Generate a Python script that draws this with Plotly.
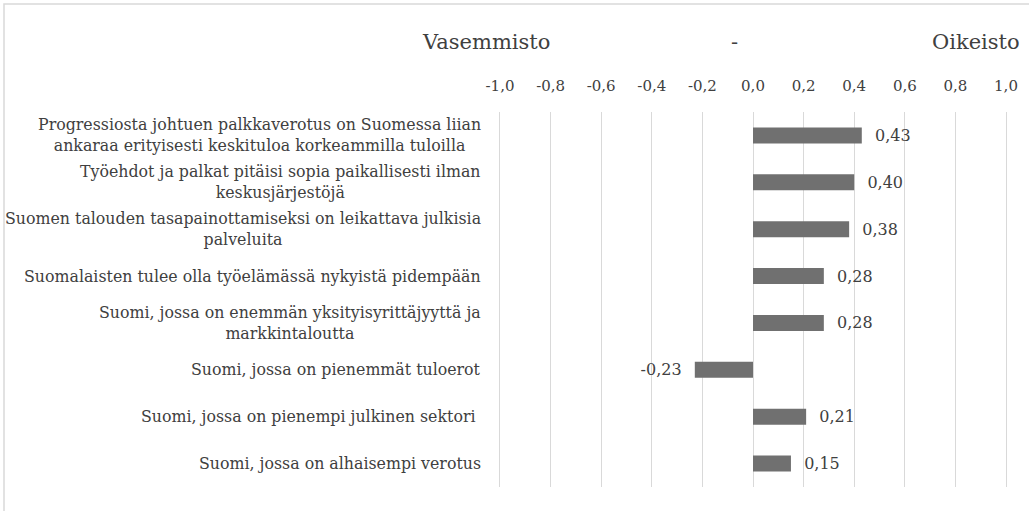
import plotly.graph_objects as go

# kysymykset (ylhäältä alas)
kysymykset = [
    "Progressiosta johtuen palkkaverotus on Suomessa liian<br>ankaraa erityisesti keskituloa korkeammilla tuloilla",
    "Työehdot ja palkat pitäisi sopia paikallisesti ilman<br>keskusjärjestöjä",
    "Suomen talouden tasapainottamiseksi on leikattava julkisia<br>palveluita",
    "Suomalaisten tulee olla työelämässä nykyistä pidempään",
    "Suomi, jossa on enemmän yksityisyrittäjyyttä ja<br>markkintaloutta",
    "Suomi, jossa on pienemmät tuloerot",
    "Suomi, jossa on pienempi julkinen sektori ",
    "Suomi, jossa on alhaisempi verotus",
]
arvot = [0.43, 0.40, 0.38, 0.28, 0.28, -0.23, 0.21, 0.15]
x_tikit = [-1.0, -0.8, -0.6, -0.4, -0.2, 0.0, 0.2, 0.4, 0.6, 0.8, 1.0]
x_tikkitekstit = ["-1,0", "-0,8", "-0,6", "-0,4", "-0,2", "0,0", "0,2", "0,4", "0,6", "0,8", "1,0"]

FONT = "DejaVu Serif"
TXT = "#404040"
GRID = "#d9d9d9"
NBSP = "\u00a0"

# plot-alueen pikselit (kuvan koko 1029x511)
L, R, T, B = 500, 1006, 112, 487


def px_x(px):
    return (px - L) / (R - L)


def px_y(py):
    return (B - py) / (B - T)


def arvoteksti(v):
    s = f"{v:.2f}".replace(".", ",")
    return s + NBSP * 2 if v < 0 else NBSP * 2 + s


fig = go.Figure(go.Bar(
    x=arvot,
    y=kysymykset,
    orientation="h",
    marker=dict(color="#707070", line=dict(width=0)),
    width=0.34,
    text=[arvoteksti(v) for v in arvot],
    textposition="outside",
    constraintext="none",
    textfont=dict(family=FONT, size=16, color=TXT),
    cliponaxis=False,
))

# kategorioiden nimet keskitettyinä annotaatioina
for k in kysymykset:
    fig.add_annotation(
        x=0, xref="paper", y=k, yref="y",
        text=k, showarrow=False, xanchor="right", align="center",
        xshift=-17, font=dict(family=FONT, size=15.8, color=TXT),
    )

# otsikko kolmessa osassa
for teksti, xp, anchor in [("Vasemmisto", 420, "left"), ("-", 734, "center"), ("Oikeisto", 1022, "right")]:
    fig.add_annotation(
        x=px_x(xp), xref="paper", y=px_y(42), yref="paper",
        text=teksti, showarrow=False, xanchor=anchor, yanchor="middle",
        font=dict(family=FONT, size=21, color=TXT),
    )

fig.add_shape(type="rect", xref="paper", yref="paper",
              x0=px_x(4), x1=px_x(1040), y0=px_y(530), y1=px_y(4),
              line=dict(color=GRID, width=1.5), layer="below")

fig.update_xaxes(
    range=[-1.0, 1.0], tickvals=x_tikit, ticktext=x_tikkitekstit, side="top",
    showgrid=True, gridcolor=GRID, gridwidth=1,
    zeroline=True, zerolinecolor=GRID, zerolinewidth=1,
    showline=False, ticks="", ticklabelstandoff=17,
    tickfont=dict(family=FONT, size=15, color=TXT),
)
fig.update_yaxes(
    categoryorder="array", categoryarray=kysymykset, autorange="reversed",
    showticklabels=False, showgrid=False, ticks="",
    showline=True, mirror=True, linecolor=GRID, linewidth=1,
)
fig.update_layout(
    width=1029, height=511,
    margin=dict(l=L, r=1029 - R, t=T, b=511 - B),
    plot_bgcolor="white", paper_bgcolor="white",
    showlegend=False,
)

fig.write_html("out.html", config={"displayModeBar": False},
               post_script="document.body.style.margin='0';")
